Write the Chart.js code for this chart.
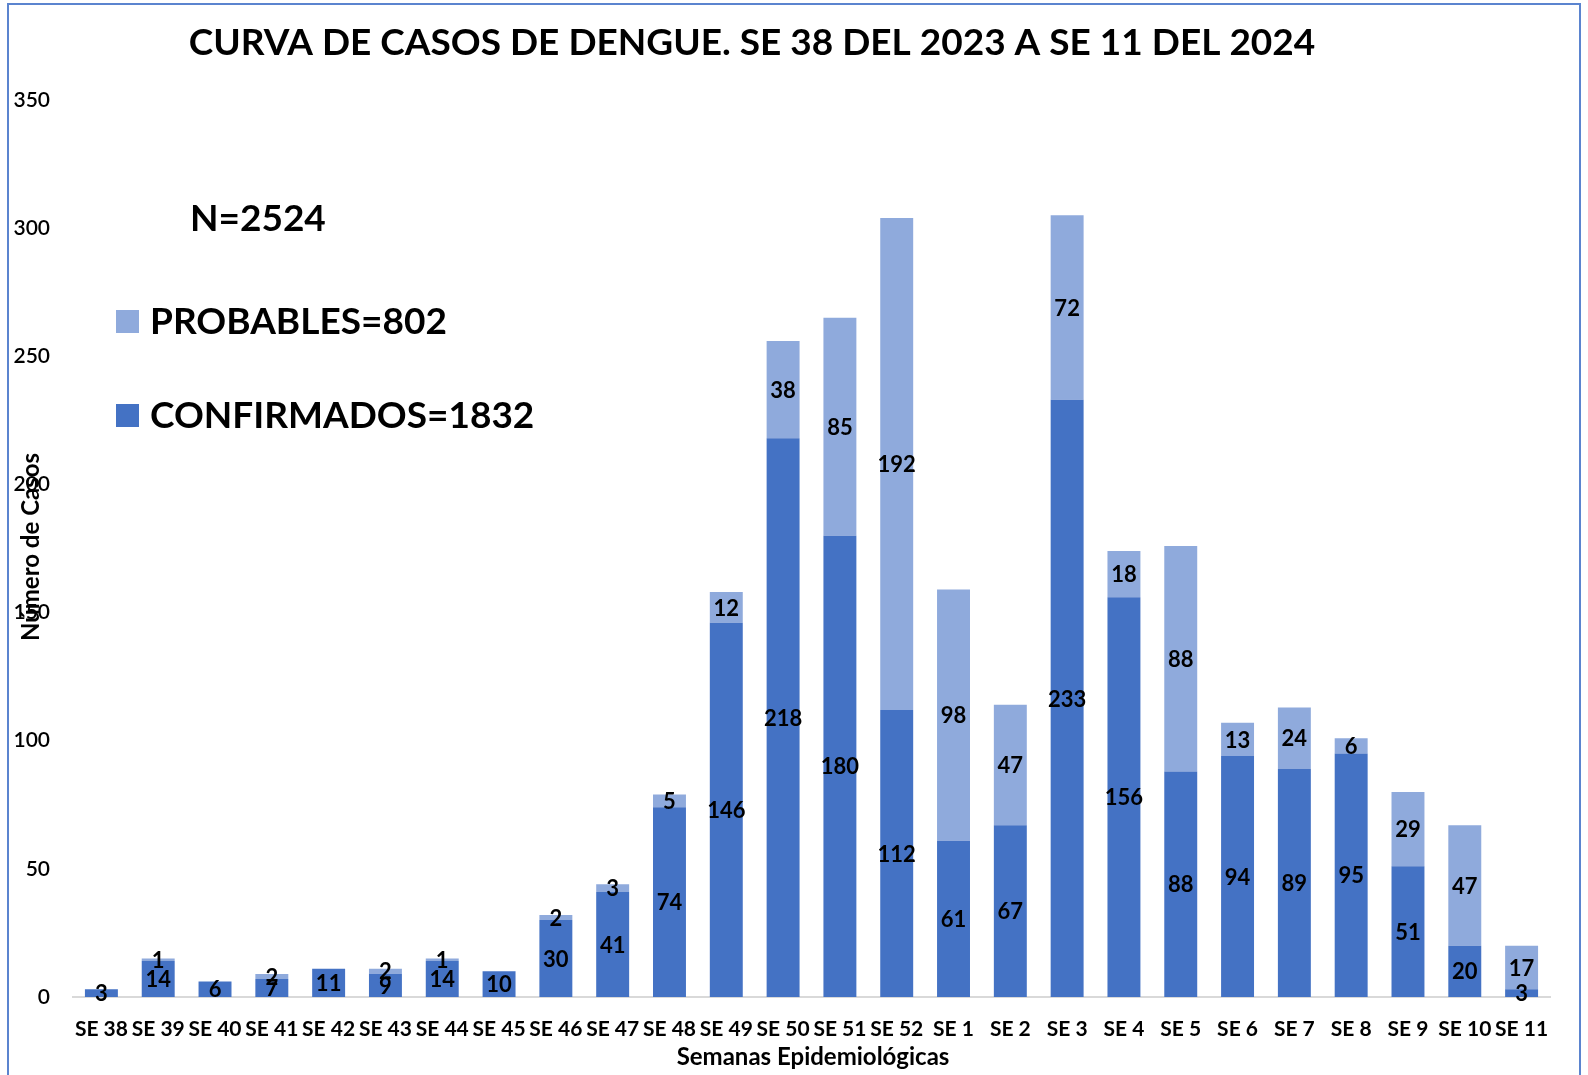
<!DOCTYPE html>
<html>
<head>
<meta charset="utf-8">
<script src="https://cdn.jsdelivr.net/npm/chart.js@4.4.0/dist/chart.umd.min.js"></script>
<style>
  html, body { margin: 0; padding: 0; background: #fff; }
  #wrap { width: 1588px; height: 1075px; position: relative; }
</style>
</head>
<body>
<div id="wrap"><canvas id="chart" width="1588" height="1075"></canvas></div>
<script>
// Data
const weeks = ['SE 38', 'SE 39', 'SE 40', 'SE 41', 'SE 42', 'SE 43', 'SE 44', 'SE 45', 'SE 46', 'SE 47',
  'SE 48', 'SE 49', 'SE 50', 'SE 51', 'SE 52', 'SE 1', 'SE 2', 'SE 3', 'SE 4', 'SE 5',
  'SE 6', 'SE 7', 'SE 8', 'SE 9', 'SE 10', 'SE 11'];
const confirmados = [3, 14, 6, 7, 11, 9, 14, 10, 30, 41, 74, 146, 218, 180, 112, 61, 67, 233, 156, 88, 94, 89, 95, 51, 20, 3];
const probables = [0, 1, 0, 2, 0, 2, 1, 0, 2, 3, 5, 12, 38, 85, 192, 98, 47, 72, 18, 88, 13, 24, 6, 29, 47, 17];
const yTicks = [0, 50, 100, 150, 200, 250, 300, 350];

const titleText = 'CURVA DE CASOS DE DENGUE. SE 38 DEL 2023 A SE 11 DEL 2024';
const totalText = 'N=2524';
const legendItems = ['PROBABLES=802', 'CONFIRMADOS=1832'];

const darkBlue = '#4472C4';
const lightBlue = '#8FAADC';
const FONT = 'Lato, "Open Sans", sans-serif';

// numbers inside each stacked piece
const segmentLabels = {
  id: 'segmentLabels',
  afterDatasetsDraw(chart) {
    const ctx = chart.ctx;
    ctx.save();
    ctx.font = 'bold 22px ' + FONT;
    ctx.fillStyle = '#000';
    ctx.textAlign = 'center';
    ctx.textBaseline = 'middle';
    chart.data.datasets.forEach((ds, i) => {
      chart.getDatasetMeta(i).data.forEach((bar, j) => {
        const v = ds.data[j];
        if (!v) return;
        ctx.fillText(String(v), bar.x, (bar.y + bar.base) / 2 + 1);
      });
    });
    ctx.restore();
  }
};

// frame, title, axis titles and the N / legend block
const decorations = {
  id: 'decorations',
  afterDraw(chart) {
    const ctx = chart.ctx;
    ctx.save();
    ctx.strokeStyle = '#5B84CF';
    ctx.lineWidth = 2;
    ctx.beginPath();
    ctx.moveTo(8, 1080);
    ctx.lineTo(8, 4);
    ctx.lineTo(1580, 4);
    ctx.lineTo(1580, 1080);
    ctx.stroke();

    ctx.fillStyle = '#000';
    ctx.textAlign = 'center';
    ctx.textBaseline = 'middle';
    ctx.font = 'bold 37px ' + FONT;
    ctx.fillText(titleText, 752, 43);

    ctx.font = 'bold 24px ' + FONT;
    ctx.fillText('Semanas Epidemiológicas', 813, 1057);

    ctx.save();
    ctx.translate(31, 547);
    ctx.rotate(-Math.PI / 2);
    ctx.fillText('Número de Casos', 0, 0);
    ctx.restore();

    ctx.textAlign = 'left';
    ctx.font = 'bold 37px ' + FONT;
    ctx.fillText(totalText, 190, 219);

    const colors = [lightBlue, darkBlue];
    const ys = [322, 416];
    legendItems.forEach((txt, i) => {
      ctx.fillStyle = colors[i];
      ctx.fillRect(116, ys[i] - 12, 23, 23);
      ctx.fillStyle = '#000';
      ctx.fillText(txt, 150, ys[i]);
    });
    ctx.restore();
  }
};

new Chart(document.getElementById('chart'), {
  type: 'bar',
  data: {
    labels: weeks,
    datasets: [
      {
        label: 'CONFIRMADOS',
        data: confirmados,
        backgroundColor: darkBlue,
        barPercentage: 0.58,
        categoryPercentage: 1
      },
      {
        label: 'PROBABLES',
        data: probables,
        backgroundColor: lightBlue,
        barPercentage: 0.58,
        categoryPercentage: 1
      }
    ]
  },
  options: {
    responsive: false,
    animation: false,
    layout: { padding: { top: 100, right: 38, bottom: 0, left: 0 } },
    plugins: {
      legend: { display: false },
      title: { display: false },
      tooltip: { enabled: false }
    },
    scales: {
      x: {
        stacked: true,
        grid: { display: false, drawTicks: false },
        border: { color: '#D9D9D9', width: 2 },
        ticks: {
          autoSkip: false,
          maxRotation: 0,
          padding: 20,
          color: '#000',
          font: { family: FONT, size: 21, weight: 'bold' }
        },
        afterFit: s => { s.height = 78; }
      },
      y: {
        stacked: true,
        min: 0,
        max: 350,
        grid: { display: false, drawTicks: false },
        border: { display: false },
        afterBuildTicks: s => { s.ticks = yTicks.map(v => ({ value: v })); },
        ticks: {
          padding: 23,
          color: '#000',
          font: { family: FONT, size: 21, weight: '600' }
        },
        afterFit: s => { s.width = 73; }
      }
    }
  },
  plugins: [segmentLabels, decorations]
});
</script>
</body>
</html>
